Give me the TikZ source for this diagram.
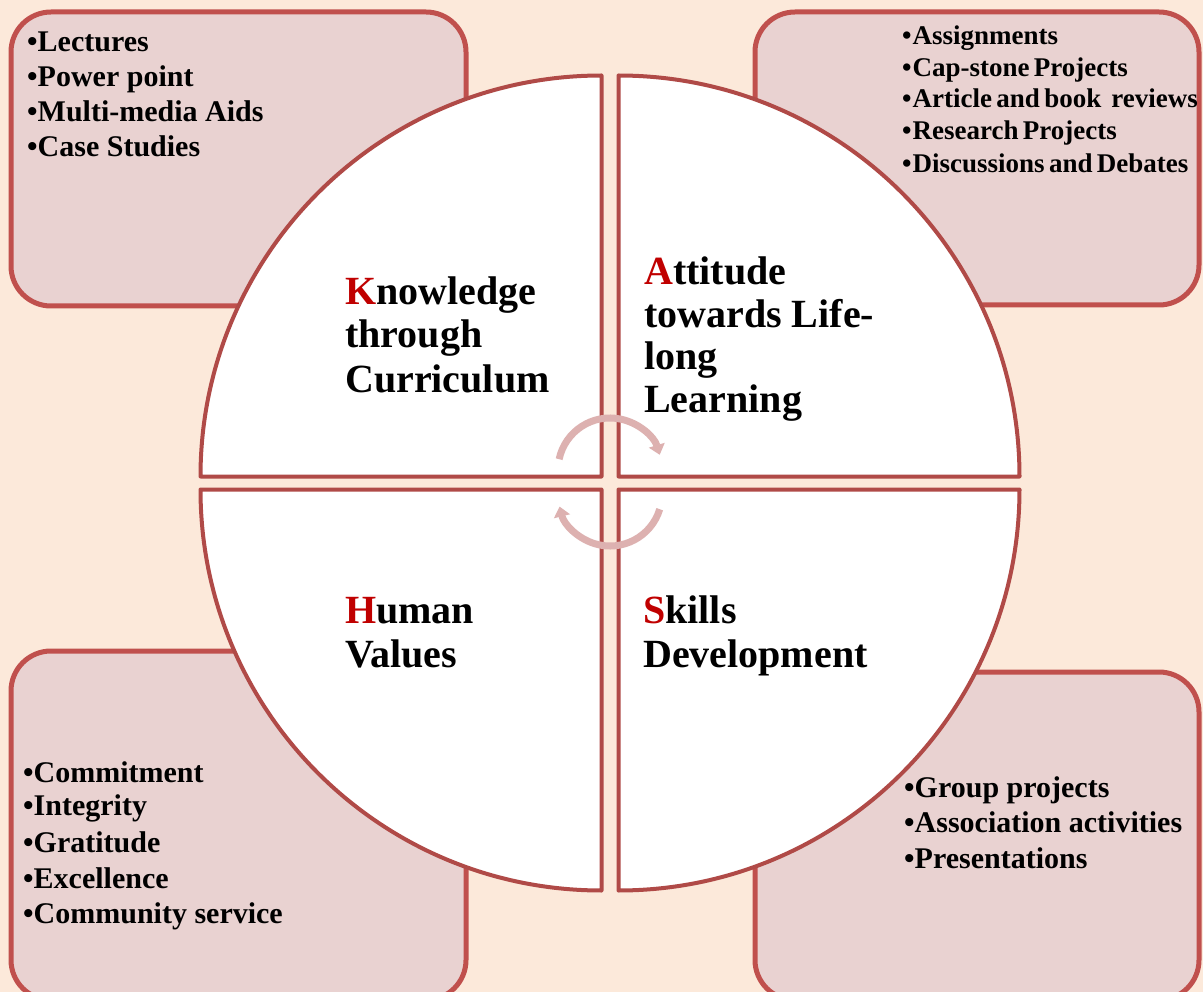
\documentclass[tikz,border=0pt]{standalone}
\usepackage{fontspec}
\setmainfont{Liberation Serif}
\usetikzlibrary{arrows.meta}
\definecolor{bg}{HTML}{FCE9DA}
\definecolor{boxfill}{HTML}{E9D2D1}
\definecolor{boxline}{HTML}{C0504D}
\definecolor{quadline}{HTML}{B04A47}
\definecolor{kred}{HTML}{C00000}
\definecolor{arrowc}{HTML}{DDB1B0}
\newcommand\mytightspace{\spaceskip=0.16em\relax}
\begin{document}
\begin{tikzpicture}[x=1pt,y=-1pt,
  cornerbox/.style={draw=boxline, line width=5pt, fill=boxfill, rounded corners=40pt, inner sep=0pt},
  quad/.style={draw=quadline, line width=4pt, fill=white, line join=round},
  title/.style={anchor=base west, inner sep=0pt, font=\fontsize{40}{45}\selectfont\bfseries},
  item/.style={anchor=base west, inner sep=0pt, font=\fontsize{30}{35}\selectfont\bfseries},
  smallitem/.style={anchor=base west, inner sep=0pt, font=\fontsize{27}{32}\selectfont\bfseries},
  cyc/.style={draw=arrowc, line width=7pt, -{Triangle[width=16pt,length=10pt]}}
]
\useasboundingbox (0,0) rectangle (1203,992);
\clip (0,0) rectangle (1203,992);
\fill[bg] (0,0) rectangle (1203,992);

% corner boxes
\node[cornerbox, minimum width=455pt, minimum height=294pt] (boxK) at (238.5,159) {};
\node[cornerbox, minimum width=444pt, minimum height=293pt] (boxA) at (977,158.5) {};
\node[cornerbox, minimum width=455pt, minimum height=349pt] (boxH) at (238.5,825.5) {};
\node[cornerbox, minimum width=444pt, minimum height=328pt] (boxS) at (977,836) {};

% quadrants
\draw[quad] (601.5,476.5) -- (200.5,476.5) arc[start angle=180, end angle=270, radius=401] -- cycle;
\draw[quad] (618.5,476.5) -- (618.5,75.5) arc[start angle=270, end angle=360, radius=401] -- cycle;
\draw[quad] (618.5,489.5) -- (1019.5,489.5) arc[start angle=0, end angle=90, radius=401] -- cycle;
\draw[quad] (601.5,489.5) -- (601.5,890.5) arc[start angle=90, end angle=180, radius=401] -- cycle;

% cycle arrows
\draw[cyc] ([shift={(192:52)}]610,470) arc[start angle=192, end angle=343, radius=52];
\draw[cyc] ([shift={(17:52)}]610,494) arc[start angle=17, end angle=166, radius=52];

% quadrant titles
\node[title] (k1) at (345,305) {\textcolor{kred}{K}nowledge};
\node[title] (k2) at (345,348) {through};
\node[title] (k3) at (345,393) {Curriculum};
\node[title] (a1) at (644,285) {\textcolor{kred}{A}ttitude};
\node[title] (a2) at (644,328) {towards Life-};
\node[title] (a3) at (644,370) {long};
\node[title] (a4) at (644,413) {Learning};
\node[title] (h1) at (345,623) {\textcolor{kred}{H}uman};
\node[title] (h2) at (345,667) {Values};
\node[title] (s1) at (643,623) {\textcolor{kred}{S}kills};
\node[title] (s2) at (643,667) {Development};

% lists
\foreach \t/\yy [count=\i] in {Lectures/52, Power point/87, Multi-media Aids/122, Case Studies/157}
  \node[item] (kl\i) at (27,\yy) {•\t};
\foreach \t/\yy [count=\i] in {Assignments/45, Cap-stone Projects/77, Article and book\hspace{10pt}reviews/108, Research Projects/140, Discussions and Debates/173}
  \node[smallitem] (al\i) at (902,\yy) {\mytightspace •\hspace{1pt}\t};
\foreach \t/\yy [count=\i] in {Commitment/782, Integrity/815, Gratitude/852, Excellence/888, Community service/923}
  \node[item] (hl\i) at (23,\yy) {•\t};
\foreach \t/\yy [count=\i] in {Group projects/797, Association activities/832, Presentations/868}
  \node[item] (sl\i) at (904,\yy) {•\t};
\end{tikzpicture}
\end{document}
